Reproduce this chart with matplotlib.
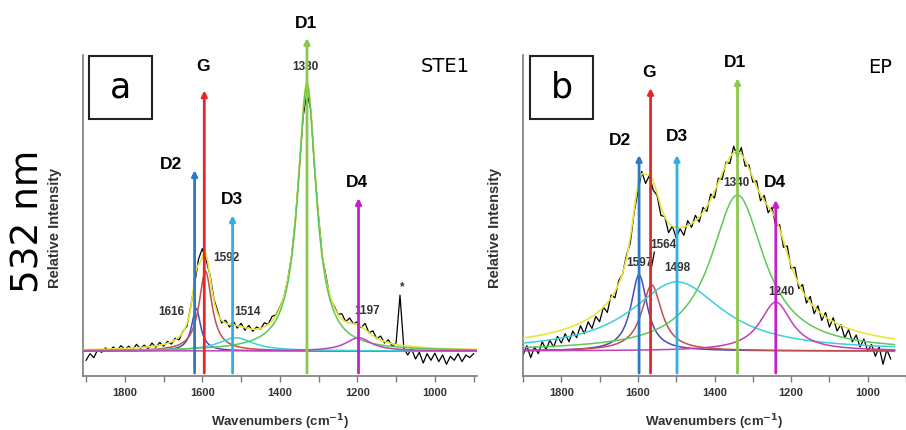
import numpy as np
import matplotlib.pyplot as plt
from matplotlib.patches import Rectangle

plt.rcParams['font.family'] = ['Liberation Sans', 'DejaVu Sans']

# measured spectrum, panel a (STE1), every 10 cm-1 from 1900 down to 900
wn_a = np.arange(1900, 899, -10)
spec_a = [-3.5, -1.0, -2.5, 0.5, -0.5, 1.2, 0.0, 1.5, 0.3, 2.0,
          0.6, 1.8, 0.4, 2.5, 1.0, 2.2, 0.9, 3.0, 1.4, 3.2,
          1.8, 3.6, 2.6, 4.8, 4.2, 7.4, 9.2, 16.8, 25.0, 34.5,
          38.5, 34.0, 28.5, 19.5, 14.8, 10.5, 11.6, 9.0, 11.2, 8.6,
          10.4, 7.8, 9.6, 7.4, 9.0, 8.2, 10.6, 10.0, 13.0, 13.6,
          16.5, 20.0, 26.5, 35.5, 49.5, 68.0, 88.0, 97.0, 90.5, 67.5,
          50.5, 35.0, 27.5, 19.5, 17.0, 13.8, 14.0, 11.0, 12.4, 10.2,
          11.0, 8.8, 10.4, 6.8, 7.6, 4.6, 5.6, 3.0, 4.2, 1.8,
          3.0, 21.0, 1.0, -1.5, 0.8, -3.0, -0.5, -4.5, -1.0, -3.5,
          -0.8, -4.0, -1.5, -5.0, -2.0, -3.5, -1.0, -4.0, -1.5, -2.5,
          -1.0]

# measured spectrum, panel b (EP), every 10 cm-1 from 1900 down to 940
wn_b = np.arange(1900, 939, -10)
spec_b = [-1.5, 2.0, -2.5, 1.5, -1.0, 3.5, 0.5, 4.0, 1.5, 5.5,
          3.0, 6.5, 3.5, 7.5, 5.0, 9.5, 6.5, 11.0, 8.5, 13.0,
          11.0, 16.5, 14.5, 21.0, 20.0, 26.5, 29.0, 36.0, 40.5, 52.0,
          60.0, 67.5, 63.0, 66.0, 60.5, 58.5, 51.0, 50.5, 44.5, 47.0,
          42.5, 46.0, 43.5, 49.0, 46.5, 51.0, 48.5, 54.0, 52.5, 59.0,
          57.5, 65.0, 64.5, 71.0, 70.5, 77.0, 73.0, 76.5, 69.5, 70.0,
          63.5, 64.0, 56.5, 58.5, 52.0, 54.0, 47.0, 47.5, 39.0, 39.5,
          31.0, 31.5, 23.5, 25.0, 18.0, 20.5, 14.0, 17.0, 11.5, 14.5,
          9.0, 12.5, 7.5, 10.0, 5.0, 8.0, 3.5, 6.0, 1.5, 4.5,
          0.0, 2.5, -2.0, 1.5, -5.0, 0.5, -3.0]

# fitted bands (order D2, G, D3, D1, D4)
bands = ['D2', 'G', 'D3', 'D1', 'D4']
pos_a = [1616, 1592, 1514, 1330, 1197]
height_a = [16, 30, 5, 100, 5]
hwhm_a = [14, 20, 55, 29, 40]
arrow_a = [1620, 1595, 1522, 1330, 1197]

pos_b = [1597, 1564, 1498, 1340, 1240]
height_b = [28.6, 24.8, 26, 58.6, 18.4]
hwhm_b = [26, 32, 145, 85, 50]
arrow_b = [1597, 1567, 1498, 1340, 1240]

ARROW_COLORS = ['#2b7bc4', '#e8262a', '#33aee3', '#8cc84b', '#c81ec8']
BAND_COLORS = ['#4b4bb8', '#c0504d', '#3ccfd6', '#5cc85c', '#c040b8']
FIT_COLOR = '#e6e63c'
GREY = '#333333'


def lorentz(x, x0, h, w):
    return h / (1 + ((x - x0) / w) ** 2)


def draw_panel(ax, wn, spec, pos, height, hwhm, xlim):
    x = np.linspace(xlim[0], xlim[1], 800)
    comps = [lorentz(x, p, h, w) for p, h, w in zip(pos, height, hwhm)]
    ax.plot(wn, spec, color='black', lw=0.9, zorder=2)
    ax.plot(x, np.sum(comps, axis=0), color=FIT_COLOR, lw=1.2, zorder=3)
    for c, col in zip(comps, BAND_COLORS):
        ax.plot(x, c, color=col, lw=1.1, zorder=4)
    ax.set_xlim(*xlim)
    ax.set_ylim(-9.4, 111.3)
    for s in ['top', 'right']:
        ax.spines[s].set_visible(False)
    for s in ['left', 'bottom']:
        ax.spines[s].set_color('#7a7a7a')
        ax.spines[s].set_linewidth(1.2)
    ax.set_yticks([])
    ax.set_xticks(np.arange(1800, 899, -200))
    ax.set_xticks(np.arange(1900, 880, -100), minor=True)
    ax.tick_params(which='both', axis='x', direction='out', length=4, width=1,
                   color='#7a7a7a', labelsize=8, labelcolor=GREY, pad=5)
    for t in ax.get_xticklabels():
        t.set_fontweight('bold')
    ax.set_xlabel('Wavenumbers (cm$^{\\mathbf{-1}}$)', fontsize=9.5, fontweight='bold', color=GREY)
    ax.xaxis.set_label_coords(0.5, -0.112)
    ax.set_ylabel('Relative Intensity', fontsize=10.5, fontweight='bold', color=GREY)
    ax.yaxis.set_label_coords(-0.054, 0.461)


def draw_arrows(ax, xs, tops, label_xy):
    for xv, top, (lx, ly), name, col in zip(xs, tops, label_xy, bands, ARROW_COLORS):
        ax.annotate('', xy=(xv, top), xytext=(xv, -8.3), annotation_clip=False,
                    arrowprops=dict(arrowstyle='-|>', color=col, lw=2.0,
                                    mutation_scale=8, shrinkA=0, shrinkB=0), zorder=6)
        ax.text(lx, ly, name, fontsize=12.5, fontweight='bold', ha='center', va='center',
                clip_on=False, zorder=7)


fig = plt.figure(figsize=(9.06, 4.30), dpi=100)
ax_a = fig.add_axes([0.0916, 0.1256, 0.435, 0.7465])
ax_b = fig.add_axes([0.5773, 0.1256, 0.4227, 0.7465])

draw_panel(ax_a, wn_a, spec_a, pos_a, height_a, hwhm_a, (1908, 891))
draw_panel(ax_b, wn_b, spec_b, pos_b, height_b, hwhm_b, (1900, 930))

draw_arrows(ax_a, arrow_a, [68, 98, 51, 117.7, 57.5],
            [(1680, 70), (1599, 106.8), (1524, 57.1), (1333, 123.3), (1201, 63.5)])
draw_arrows(ax_b, arrow_b, [73.7, 98.9, 73.7, 102.6, 56.8],
            [(1648, 79.3), (1570, 104.9), (1499, 80.5), (1347, 108.3), (1243, 63.5)])

small = dict(fontsize=8.5, fontweight='bold', color=GREY, ha='center', va='center', zorder=5)
ax_a.text(1333, 106.8, '1330', clip_on=False, **small)
ax_a.text(1537, 35, '1592', **small)
ax_a.text(1681, 14.7, '1616', **small)
ax_a.text(1483, 14.7, '1514', **small)
ax_a.text(1176, 15, '1197', **small)
ax_a.text(1083, 24, '*', **small)

ax_b.text(1344, 63.2, '1340', **small)
ax_b.text(1225, 22.2, '1240', **small)
ax_b.text(1597, 33, '1597', **small)
ax_b.text(1534, 39.8, '1564', **small)
ax_b.text(1496, 31.2, '1498', **small)
ax_b.plot([1557, 1567], [37.2, 29.7], color='black', lw=0.9, zorder=5)

# panel letters in boxes
for x0, letter in [(0.0982, 'a'), (0.5850, 'b')]:
    fig.patches.append(Rectangle((x0, 0.7233), 0.0695, 0.1465, transform=fig.transFigure,
                                 fill=False, edgecolor='#222222', lw=1.5))
    fig.text(x0 + 0.0348, 0.7233 + 0.073, letter, fontsize=25, family='DejaVu Sans',
             ha='center', va='center')

fig.text(0.491, 0.8465, 'STE1', fontsize=14, family='DejaVu Sans', ha='center', va='center')
fig.text(0.971, 0.842, 'EP', fontsize=14, family='DejaVu Sans', ha='center', va='center')
fig.text(0.031, 0.486, '532 nm', fontsize=27, family='DejaVu Sans', rotation=90,
         ha='center', va='center')

fig.savefig('out.png', dpi=100)
